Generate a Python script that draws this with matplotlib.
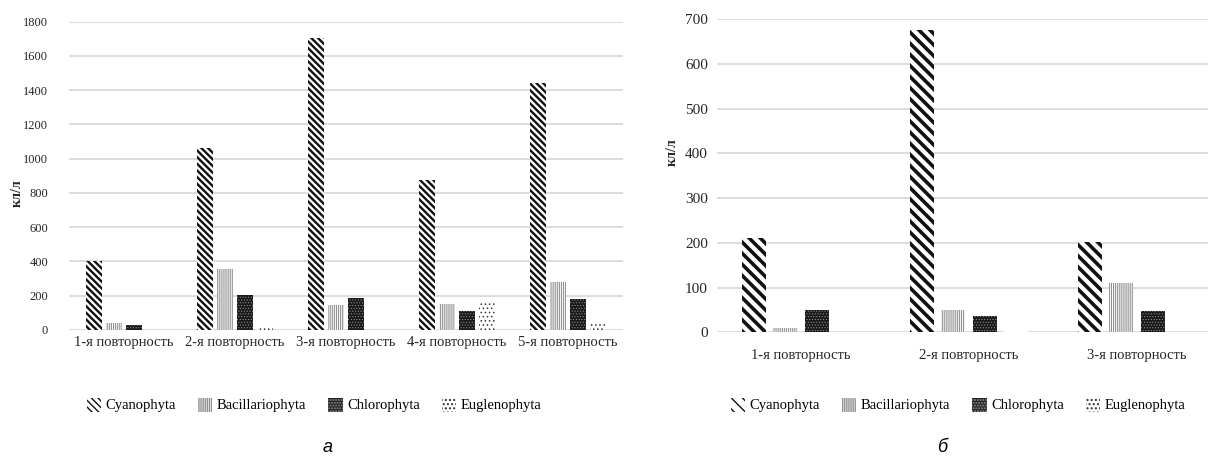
import numpy as np
import matplotlib
matplotlib.use('Agg')
import matplotlib.pyplot as plt

plt.rcParams['font.family'] = ['Liberation Serif', 'DejaVu Serif']

# данные, рисунок а
cats_a = ['1-я повторность', '2-я повторность', '3-я повторность',
          '4-я повторность', '5-я повторность']
cyan_a = [400, 1060, 1705, 875, 1440]
bac_a = [42, 355, 145, 150, 278]
chl_a = [30, 203, 188, 110, 180]
eug_a = [0, 10, 0, 162, 43]
yticks_a = [0, 200, 400, 600, 800, 1000, 1200, 1400, 1600, 1800]

# данные, рисунок б
cats_b = ['1-я повторность', '2-я повторность', '3-я повторность']
cyan_b = [211, 675, 201]
bac_b = [10, 50, 111]
chl_b = [50, 37, 48]
eug_b = [0, 4, 0]
yticks_b = [0, 100, 200, 300, 400, 500, 600, 700]

series_names = ['Cyanophyta', 'Bacillariophyta', 'Chlorophyta', 'Euglenophyta']

W, H = 1208, 457
fig = plt.figure(figsize=(W / 100, H / 100), dpi=100)


def rect(x0, x1, y_top, y_bottom):
    return [x0 / W, 1 - y_bottom / H, (x1 - x0) / W, (y_bottom - y_top) / H]


def draw_chart(ax, cats, values, yticks, width, step, styles, ytick_size, ytick_pad, xtick_pad):
    x = np.arange(len(cats))
    offsets = (np.arange(len(values)) - (len(values) - 1) / 2) * step
    handles = []
    for vals, off, st, name in zip(values, offsets, styles, series_names):
        bars = ax.bar(x + off, vals, width, facecolor=st['fc'], edgecolor=st['ec'],
                      hatch=st['hatch'], linewidth=0, label=name, zorder=3)
        for b in bars:
            if hasattr(b, 'set_hatch_linewidth'):
                b.set_hatch_linewidth(st['hlw'])
        handles.append(bars)
    ax.set_xlim(-0.5, len(cats) - 0.5)
    ax.set_ylim(yticks[0], yticks[-1])
    ax.set_yticks(yticks)
    ax.set_xticks(x)
    ax.set_xticklabels(cats, fontsize=10.5)
    ax.tick_params(axis='y', length=0, labelsize=ytick_size, pad=ytick_pad, colors='#262626')
    ax.tick_params(axis='x', length=0, pad=xtick_pad, colors='#262626')
    ax.grid(axis='y', color='#d9d9d9', linewidth=1.3, zorder=0)
    for s in ['top', 'right', 'left', 'bottom']:
        ax.spines[s].set_visible(False)
    return handles


def make_styles(cyan_hatch, cyan_lw):
    return [
        dict(fc='white', ec='#111111', hatch=cyan_hatch, hlw=cyan_lw),
        dict(fc='white', ec='#909090', hatch='||||||||', hlw=0.8),
        dict(fc='#1a1a1a', ec='#9a9a9a', hatch='......', hlw=0.4),
        dict(fc='white', ec='#333333', hatch='....', hlw=0.6),
    ]


# рисунок а
ax1 = fig.add_axes(rect(68.6, 623, 21.7, 330))
h1 = draw_chart(ax1, cats_a, [cyan_a, bac_a, chl_a, eug_a], yticks_a,
                0.144, 0.18, make_styles('\\' * 5, 1.7), 9, 14.8, 4)

# рисунок б
ax2 = fig.add_axes(rect(717, 1221, 19, 332.3))
h2 = draw_chart(ax2, cats_b, [cyan_b, bac_b, chl_b, eug_b], yticks_b,
                0.143, 0.185, make_styles('\\' * 3, 2.6), 11, 6.5, 12)

fig.text(17 / W, 1 - 193 / H, 'кл/л', rotation=90, ha='center', va='center',
         fontsize=10, fontweight='bold', color='#262626')
fig.text(672 / W, 1 - 152 / H, 'кл/л', rotation=90, ha='center', va='center',
         fontsize=10, fontweight='bold', color='#262626')

leg_kw = dict(ncol=4, frameon=False, fontsize=10.5, handlelength=1.0, handleheight=1.1,
              handletextpad=0.3, columnspacing=1.5, borderaxespad=0, borderpad=0)
fig.legend(h1, series_names, loc='center', bbox_to_anchor=(314 / W, 1 - 405 / H), **leg_kw)
fig.legend(h2, series_names, loc='center', bbox_to_anchor=(958 / W, 1 - 405 / H), **leg_kw)

fig.text(328 / W, 1 - 447 / H, 'а', ha='center', va='center', fontsize=13,
         style='italic', family=['Liberation Sans', 'DejaVu Sans'])
fig.text(942 / W, 1 - 447 / H, 'б', ha='center', va='center', fontsize=13,
         style='italic', family=['Liberation Sans', 'DejaVu Sans'])

fig.savefig('out.png', dpi=100)
